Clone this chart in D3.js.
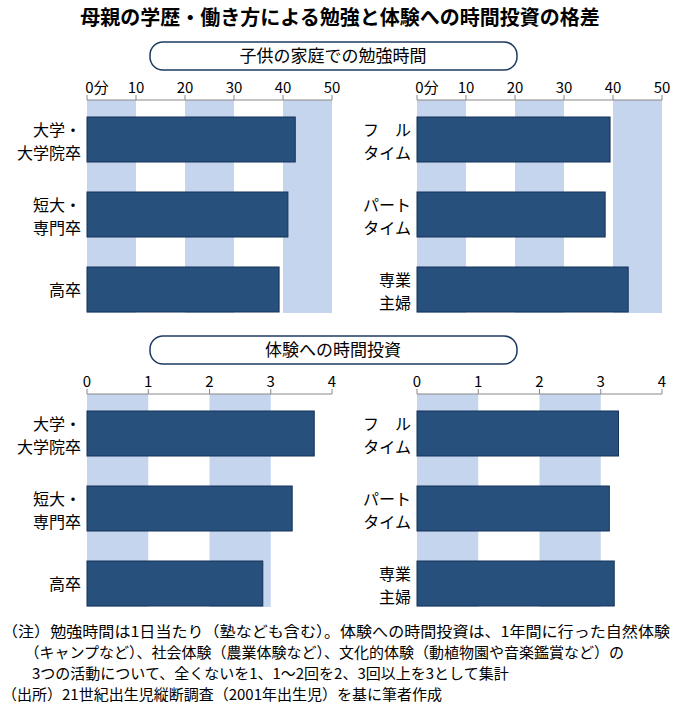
<!DOCTYPE html><html><head><meta charset="utf-8"><script src="https://cdn.jsdelivr.net/npm/d3@7"></script>
<style>body{margin:0;background:#fff}text{font-family:"Noto Sans CJK JP",sans-serif}</style></head><body><svg id="c" width="680" height="708"></svg>
<script>
const eduCats=[["大学・","大学院卒"],["短大・","専門卒"],["","高卒"]];
const workCats=[["フ　ル","タイム"],["パート","タイム"],["専業","主婦"]];
const studyEdu=[42.5,41.0,39.2];
const studyWork=[39.4,38.4,43.1];
const expEdu=[3.71,3.35,2.87];
const expWork=[3.29,3.14,3.22];
const studyTicks=["0分","10","20","30","40","50"];
const expTicks=["0","1","2","3","4"];
const notes=["（注）勉強時間は1日当たり（塾なども含む）。体験への時間投資は、1年間に行った自然体験","　　（キャンプなど）、社会体験（農業体験など）、文化的体験（動植物園や音楽鑑賞など）の","　　3つの活動について、全くないを1、1～2回を2、3回以上を3として集計","（出所）21世紀出生児縦断調査（2001年出生児）を基に筆者作成"];
const svg=d3.select("#c");
const blue="#c5d5ee",bar="#27507d";
svg.append("text").attr("x",340).attr("y",25).attr("text-anchor","middle").attr("font-size",20).attr("font-weight","bold").text("母親の学歴・働き方による勉強と体験への時間投資の格差");
function header(y,t){svg.append("rect").attr("x",150).attr("y",y).attr("width",367).attr("height",28).attr("rx",13).attr("fill","#fff").attr("stroke","#1f3a63").attr("stroke-width",1.5);
svg.append("text").attr("x",333).attr("y",y+20).attr("text-anchor","middle").attr("font-size",17).text(t);}
header(42,"子供の家庭での勉強時間");header(336,"体験への時間投資");
function panel(x0,x1,yTop,cats,vals,max,ticks){
 const x=d3.scaleLinear().domain([0,max]).range([x0,x1]);
 const y=d3.scaleBand().domain(d3.range(3)).range([yTop+17,yTop+212]).paddingInner(0.4).paddingOuter(0);
 const step=max/(ticks.length-1);
 const g=svg.append("g");
 for(let i=0;i<ticks.length-1;i+=2) g.append("rect").attr("x",x(i*step)).attr("y",yTop).attr("width",x(step)-x(0)).attr("height",213).attr("fill",blue);
 g.selectAll(".b").data(vals).join("rect").attr("x",x(0)).attr("y",(d,i)=>y(i)).attr("width",d=>x(d)-x(0)).attr("height",y.bandwidth()).attr("fill",bar).attr("stroke","#16335a").attr("stroke-width",1);
 g.append("line").attr("x1",x0).attr("x2",x1).attr("y1",yTop).attr("y2",yTop).attr("stroke","#888");
 ticks.forEach((t,i)=>{g.append("line").attr("x1",x(i*step)).attr("x2",x(i*step)).attr("y1",yTop-5).attr("y2",yTop).attr("stroke","#888");
  g.append("text").attr("x",x(i*step)+(i==0&&t.length>1?10:0)).attr("y",yTop-7).attr("text-anchor","middle").attr("font-size",15).text(t);});
 cats.forEach((c,i)=>{const cy=y(i)+y.bandwidth()/2;
  g.append("text").attr("x",x0-6).attr("y",c[0]?cy-4:cy+6).attr("text-anchor","end").attr("font-size",16).text(c[0]);
  g.append("text").attr("x",x0-6).attr("y",c[0]?cy+19:cy+6).attr("text-anchor","end").attr("font-size",16).text(c[1]);});
}
panel(87,332,100,eduCats,studyEdu,50,studyTicks);
panel(417,662,100,workCats,studyWork,50,studyTicks);
panel(87,332,394,eduCats,expEdu,4,expTicks);
panel(417,662,394,workCats,expWork,4,expTicks);
notes.forEach((n,i)=>svg.append("text").attr("x",2).attr("y",637+i*21).attr("font-size",15).attr("textLength",i==0?668:null).attr("lengthAdjust","spacingAndGlyphs").text(n));
</script></body></html>
